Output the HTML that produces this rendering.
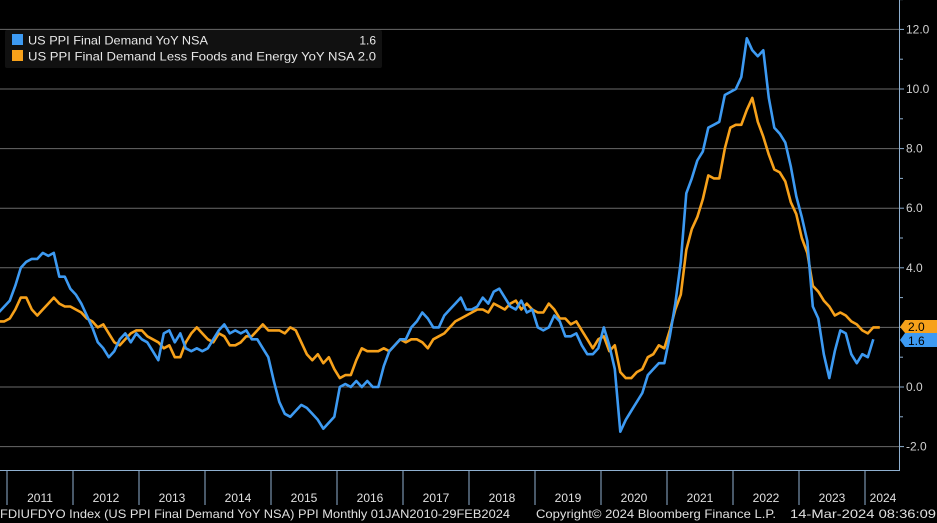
<!DOCTYPE html>
<html><head><meta charset="utf-8"><style>
html,body{margin:0;padding:0;background:#000;width:937px;height:523px;overflow:hidden}
svg{display:block;font-family:"Liberation Sans",sans-serif}
</style></head><body>
<svg id="c" width="937" height="523" viewBox="0 0 937 523" xmlns="http://www.w3.org/2000/svg">
<rect width="937" height="523" fill="#000"/>
<g id="grid" stroke="#6a6a6a" stroke-width="1"></g>
<g id="axis"></g>
<polyline id="orange" fill="none" stroke="#f7a11a" stroke-width="2.6" stroke-linejoin="round"/>
<polyline id="blue" fill="none" stroke="#3d9af2" stroke-width="2.6" stroke-linejoin="round"/>
<rect x="5" y="30" width="377" height="38" fill="#111" rx="2"/>
<rect x="12" y="34" width="11" height="11" fill="#3d9af2"/>
<rect x="12" y="50" width="11" height="11" fill="#f7a11a"/>
<text x="28" y="44.5" fill="#e8e8e8" font-size="12" textLength="180" lengthAdjust="spacingAndGlyphs">US PPI Final Demand YoY NSA</text>
<text x="376" y="44.5" fill="#e8e8e8" font-size="12" text-anchor="end">1.6</text>
<text x="28" y="60.5" fill="#e8e8e8" font-size="12" textLength="348" lengthAdjust="spacingAndGlyphs">US PPI Final Demand Less Foods and Energy YoY NSA 2.0</text>
<polygon points="900,327 905,320 937,320 937,333 905,333" fill="#f7a11a"/>
<text x="908" y="331" fill="#000" font-size="12">2.0</text>
<polygon points="900,340 905,333 937,333 937,347 905,347" fill="#3d9af2"/>
<text x="908" y="345" fill="#000" font-size="12">1.6</text>
<text x="0" y="518" fill="#e0e0e0" font-size="12" textLength="510" lengthAdjust="spacingAndGlyphs">FDIUFDYO Index (US PPI Final Demand YoY NSA) PPI  Monthly 01JAN2010-29FEB2024</text>
<text x="536" y="518" fill="#e0e0e0" font-size="12" textLength="240" lengthAdjust="spacingAndGlyphs">Copyright© 2024 Bloomberg Finance L.P.</text>
<text x="790" y="518" fill="#e0e0e0" font-size="12" textLength="146" lengthAdjust="spacingAndGlyphs">14-Mar-2024 08:36:09</text>
</svg>
<script>
var ns="http://www.w3.org/2000/svg";
function Y(v){return 387-v*29.8;}
function X(i){return -59+5.5*i+2.75;}
var g=document.getElementById('grid'),ax=document.getElementById('axis');
function el(p,t,a,txt){var e=document.createElementNS(ns,t);for(var k in a)e.setAttribute(k,a[k]);if(txt)e.textContent=txt;p.appendChild(e);return e;}
for(var v=-2;v<=12;v+=2){el(g,'line',{x1:0,x2:899,y1:Y(v),y2:Y(v)});
 el(ax,'text',{x:906,y:Y(v)+4,fill:'#d0d0d0','font-size':12},v.toFixed(1));
 el(ax,'line',{x1:899,x2:904,y1:Y(v),y2:Y(v),stroke:'#8fb0d0'});}
for(var v=-1;v<=13;v+=2){el(ax,'line',{x1:899,x2:903,y1:Y(v),y2:Y(v),stroke:'#8fb0d0'});}
el(ax,'line',{x1:899.5,x2:899.5,y1:0,y2:470,stroke:'#8fb0d0'});
el(ax,'line',{x1:0,x2:900,y1:470.5,y2:470.5,stroke:'#8fb0d0'});
for(var y=0;y<14;y++){var x=7+66*y;el(ax,'line',{x1:x,x2:x,y1:470,y2:505,stroke:'#8fb0d0'});
 var cx=y<13?x+33:x+18;el(ax,'text',{x:cx,y:502,fill:'#e0e0e0','font-size':12,'text-anchor':'middle'},String(2011+y));}
var B=[3.5,3.8,4.0,4.3,4.6,3.0,3.5,3.0,3.0,3.0,2.5,2.7,
2.9,3.4,4.0,4.2,4.3,4.3,4.5,4.4,4.5,3.7,3.7,3.3,
3.1,2.8,2.4,2.0,1.5,1.3,1.0,1.2,1.6,1.8,1.5,1.8,
1.6,1.5,1.2,0.9,1.8,1.9,1.5,1.8,1.3,1.2,1.3,1.2,
1.3,1.6,1.9,2.1,1.8,1.9,1.8,1.9,1.6,1.6,1.3,1.0,
0.2,-0.5,-0.9,-1.0,-0.8,-0.6,-0.7,-0.9,-1.1,-1.4,-1.2,-1.0,
0.0,0.1,0.0,0.2,0.0,0.2,0.0,0.0,0.7,1.2,1.4,1.6,
1.6,2.0,2.2,2.5,2.3,2.0,2.0,2.4,2.6,2.8,3.0,2.6,
2.6,2.7,3.0,2.8,3.2,3.3,3.0,2.7,2.6,2.9,2.5,2.6,
2.0,1.9,2.0,2.4,2.2,1.7,1.7,1.8,1.4,1.1,1.1,1.3,
2.0,1.4,0.6,-1.5,-1.1,-0.8,-0.5,-0.2,0.4,0.6,0.8,0.8,
1.7,2.8,4.2,6.5,7.0,7.6,7.9,8.7,8.8,8.9,9.8,9.9,
10.0,10.4,11.7,11.3,11.1,11.3,9.7,8.7,8.5,8.2,7.4,6.4,
5.7,4.9,2.7,2.3,1.1,0.3,1.2,1.9,1.8,1.1,0.8,1.1,
1.0,1.6];
var O=[2.0,2.0,2.0,2.0,2.0,2.0,2.0,2.0,2.0,2.1,2.2,2.2,
2.3,2.6,3.0,3.0,2.6,2.4,2.6,2.8,3.0,2.8,2.7,2.7,
2.6,2.5,2.3,2.2,2.0,2.1,1.8,1.5,1.4,1.6,1.8,1.9,
1.9,1.7,1.6,1.5,1.3,1.4,1.0,1.0,1.5,1.8,2.0,1.8,
1.6,1.5,1.8,1.7,1.4,1.4,1.5,1.7,1.7,1.9,2.1,1.9,
1.9,1.9,1.8,2.0,1.9,1.5,1.1,0.9,1.1,0.8,1.0,0.6,
0.3,0.4,0.4,0.9,1.3,1.2,1.2,1.2,1.3,1.2,1.4,1.6,
1.5,1.6,1.6,1.5,1.3,1.6,1.7,1.8,2.0,2.2,2.3,2.4,
2.5,2.6,2.6,2.5,2.8,2.7,2.6,2.8,2.9,2.6,2.8,2.6,
2.5,2.5,2.8,2.6,2.3,2.3,2.1,2.2,1.9,1.6,1.3,1.6,
1.7,1.2,1.4,0.5,0.3,0.3,0.5,0.6,1.0,1.1,1.4,1.3,
1.9,2.6,3.1,4.6,5.3,5.7,6.3,7.1,7.0,7.0,8.0,8.7,
8.8,8.8,9.3,9.7,8.9,8.4,7.8,7.3,7.2,6.9,6.2,5.8,
5.0,4.5,3.4,3.2,2.9,2.7,2.4,2.5,2.4,2.2,2.1,1.9,
1.8,2.0,2.0];
function pts(a){var s=[];for(var i=0;i<a.length;i++){var x=X(i);if(i==a.length-1&&a===O)x+=1;s.push(x.toFixed(1)+','+Y(a[i]).toFixed(1));}return s.join(' ');}
document.getElementById('blue').setAttribute('points',pts(B));
document.getElementById('orange').setAttribute('points',pts(O));
</script>
</body></html>
